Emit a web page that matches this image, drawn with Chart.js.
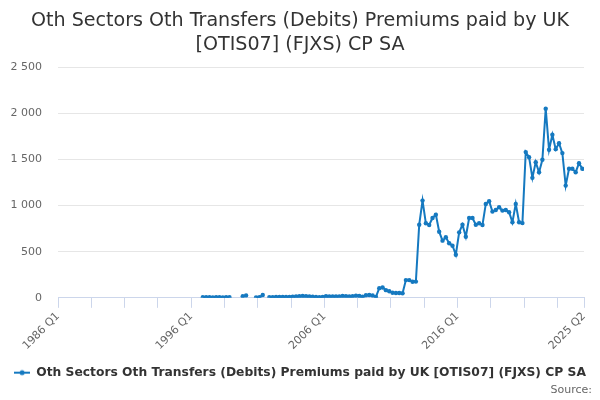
<!DOCTYPE html>
<html>
<head>
<meta charset="utf-8">
<title>Oth Sectors Oth Transfers (Debits) Premiums paid by UK [OTIS07] (FJXS) CP SA</title>
<style>
html, body { margin: 0; padding: 0; background: #fff; }
#wrap { width: 600px; height: 400px; }
</style>
</head>
<body>
<div id="wrap"><canvas id="chartFjxs"></canvas></div>
<script src="https://cdn.jsdelivr.net/npm/chart.js@4.4.1/dist/chart.umd.min.js"></script>
<script>
// series and axis data
const seriesName = 'Oth Sectors Oth Transfers (Debits) Premiums paid by UK [OTIS07] (FJXS) CP SA';
const titleLines = ['Oth Sectors Oth Transfers (Debits) Premiums paid by UK', '[OTIS07] (FJXS) CP SA'];
const years = [1986, 1987, 1988, 1989, 1990, 1991, 1992, 1993, 1994, 1995, 1996, 1997, 1998, 1999,
  2000, 2001, 2002, 2003, 2004, 2005, 2006, 2007, 2008, 2009, 2010, 2011, 2012, 2013, 2014, 2015,
  2016, 2017, 2018, 2019, 2020, 2021, 2022, 2023, 2024, 2025];
const quarters = ['Q1', 'Q2', 'Q3', 'Q4'];
const lastQuarterCount = 2; // 2025 stops at Q2
const yTicks = [0, 500, 1000, 1500, 2000, 2500];

// values per quarter, 1986 Q1 .. 2025 Q2 (null = no value)
const values = [
  null, null, null, null,   // 1986
  null, null, null, null,   // 1987
  null, null, null, null,   // 1988
  null, null, null, null,   // 1989
  null, null, null, null,   // 1990
  null, null, null, null,   // 1991
  null, null, null, null,   // 1992
  null, null, null, null,   // 1993
  null, null, null, null,   // 1994
  null, null, null, null,   // 1995
  null, null, null, 6,      // 1996
  6, 6, 5, 6,               // 1997
  6, 5, 6, 6,               // 1998
  null, null, null, 18,     // 1999
  25, null, null, 5,        // 2000
  8, 30, null, 8,           // 2001
  8, 9, 9, 10,              // 2002
  10, 10, 12, 14,           // 2003
  18, 20, 17, 14,           // 2004
  12, 10, 8, 9,             // 2005
  18, 15, 14, 15,           // 2006
  16, 20, 18, 16,           // 2007
  17, 22, 20, 12,           // 2008
  28, 30, 26, 10,           // 2009
  105, 112, 83, 72,         // 2010
  55, 52, 52, 50,           // 2011
  192, 192, 174, 176,       // 2012
  793, 1054, 808, 790,      // 2013
  866, 902, 717, 620,       // 2014
  656, 591, 565, 467,       // 2015
  710, 793, 663, 866,       // 2016
  866, 793, 808, 790,       // 2017
  1018, 1047, 935, 953,     // 2018
  982, 946, 953, 928,       // 2019
  819, 1018, 819, 810,      // 2020
  1580, 1525, 1301, 1471,   // 2021
  1362, 1497, 2051, 1605,   // 2022
  1768, 1612, 1677, 1569,   // 2023
  1217, 1399, 1399, 1362,   // 2024
  1460, 1399                // 2025
];

const labels = [];
years.forEach(function(y, yi) {
  const n = (yi === years.length - 1) ? lastQuarterCount : 4;
  for (let q = 0; q < n; q++) labels.push(y + ' ' + quarters[q]);
});

// quarters sit in the middle of their slot, tick marks on the slot edges
const points = values.map(function(v, i) { return { x: i, y: v }; });
const xEdges = [];
for (let i = 0; i < labels.length; i += 10) xEdges.push(i - 0.5);
xEdges.push(labels.length - 0.5);

const lineColour = '#1579c0';

// legend symbol: short line with a dot, like the original
const legendIcon = document.createElement('canvas');
legendIcon.width = 16;
legendIcon.height = 8;
let ic = legendIcon.getContext('2d');
ic.strokeStyle = lineColour;
ic.lineWidth = 2;
ic.beginPath(); ic.moveTo(0, 4); ic.lineTo(16, 4); ic.stroke();
ic.fillStyle = lineColour;
ic.beginPath(); ic.arc(8, 4, 2.5, 0, Math.PI * 2); ic.fill();

function spaced(n) {
  return String(n).replace(/\B(?=(\d{3})+(?!\d))/g, ' ');
}

Chart.defaults.font.family = "'DejaVu Sans', sans-serif";
Chart.defaults.color = '#666666';

let ctx = document.getElementById('chartFjxs').getContext('2d');
new Chart(ctx, {
  type: 'line',
  data: {
    datasets: [{
      label: seriesName,
      data: points,
      borderColor: lineColour,
      backgroundColor: lineColour,
      borderWidth: 2,
      pointRadius: 2.2,
      pointBorderWidth: 0,
      pointHoverRadius: 3,
      tension: 0,
      spanGaps: false
    }]
  },
  options: {
    responsive: true,
    maintainAspectRatio: false,
    animation: false,
    layout: { padding: { left: 8, right: 8, top: 0, bottom: 3 } },
    plugins: {
      title: {
        display: true,
        text: titleLines,
        color: '#333333',
        font: { size: 19.1, weight: 'normal', lineHeight: 1.25 },
        padding: { top: 9, bottom: 10.5 }
      },
      subtitle: {
        display: true,
        text: 'Source:',
        position: 'bottom',
        align: 'end',
        color: '#666666',
        font: { size: 11, weight: 'normal' },
        padding: { top: -5, bottom: 0 }
      },
      legend: {
        position: 'bottom',
        labels: {
          usePointStyle: true,
          pointStyle: legendIcon,
          pointStyleWidth: 16,
          color: '#333333',
          font: { size: 12.3, weight: 'bold' },
          padding: 0
        }
      },
      tooltip: { enabled: false }
    },
    scales: {
      x: {
        type: 'linear',
        min: -0.5,
        max: labels.length - 0.5,
        afterBuildTicks: function(axis) {
          axis.ticks = xEdges.map(function(v) { return { value: v }; });
        },
        afterFit: function(axis) { axis.height += 12; },
        grid: {
          drawOnChartArea: false,
          tickLength: 10,
          tickColor: '#ccd6eb'
        },
        border: { display: true, color: '#ccd6eb' },
        ticks: {
          autoSkip: false,
          maxRotation: 45,
          minRotation: 45,
          color: '#666666',
          font: { size: 11 },
          padding: 2,
          callback: function(value) {
            const idx = Math.round(value + 0.5);
            if (idx === labels.length) return labels[labels.length - 1];
            if (idx % 40 === 0) return labels[idx];
            return '';
          }
        }
      },
      y: {
        min: yTicks[0],
        max: yTicks[yTicks.length - 1],
        afterBuildTicks: function(axis) {
          axis.ticks = yTicks.map(function(v) { return { value: v }; });
        },
        afterFit: function(axis) { axis.width = 50; },
        grid: { color: '#e6e6e6', drawTicks: false },
        border: { display: false },
        ticks: {
          color: '#666666',
          font: { size: 11 },
          padding: 16,
          callback: function(value) { return spaced(value); }
        }
      },
      // empty spacer on the right so the title and legend stay centred
      spacer: {
        type: 'linear',
        position: 'right',
        afterFit: function(axis) { axis.width = 8; },
        grid: { drawOnChartArea: false, drawTicks: false },
        border: { display: false },
        ticks: { display: false }
      }
    }
  }
});
</script>
</body>
</html>
